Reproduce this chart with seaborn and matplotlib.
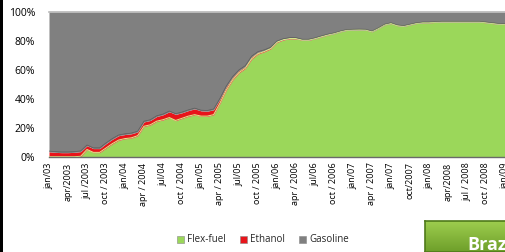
import matplotlib
matplotlib.use("Agg")
import matplotlib.pyplot as plt
import numpy as np
import pandas as pd
import seaborn as sns
from matplotlib.patches import Patch

# monthly shares, jan/2003 .. jan/2009 (percent of new light vehicle sales)
flex_fuel = [
    0, 0, 0, 0, 0, 0.3, 5, 3, 3, 6, 9, 11.5,
    12.5, 13, 14.5, 21, 22, 24.5, 25.5, 27, 25, 26.5, 28, 29,
    28, 28, 29, 37, 46, 53, 58, 61, 67.5, 71, 72.5, 74.5,
    79, 80.7, 81.5, 81.5, 80.5, 80.5, 81.5, 82.8, 84, 85, 86.3, 87.3,
    87.5, 87.6, 87.5, 86.3, 88.5, 91, 92, 90.5, 90, 91, 92, 92.5,
    92.5, 92.8, 93, 93, 93, 93, 93, 93, 93, 92.5, 92, 91.5,
    91.3,
]
ethanol = [
    3.6, 3.2, 3.0, 3.0, 3.2, 3.4, 2.8, 2.8, 2.8, 3.2, 3.2, 3.2,
    3.0, 3.0, 2.8, 3.2, 3.2, 3.4, 3.6, 4.2, 4.4, 4.0, 4.0, 4.2,
    3.8, 3.6, 3.6, 3.0, 2.5, 2.0, 1.6, 1.5, 1.6, 1.2, 0.9, 0.7,
    0.5, 0.4, 0.3, 0.3, 0.2, 0.2, 0.2, 0.2, 0.2, 0.1, 0.1, 0.1,
    0.1, 0.1, 0.1, 0.1, 0.1, 0.1, 0.1, 0.1, 0.1, 0.1, 0.1, 0.1,
    0.1, 0.1, 0.1, 0.1, 0.1, 0.1, 0.1, 0.1, 0.1, 0.1, 0.1, 0.1,
    0.1,
]
tick_labels = [
    "jan/03", "apr/2003", "jul /2003", "oct / 2003",
    "jan/04", "apr / 2004", "jul/04", "oct / 2004",
    "jan/05", "apr / 2005", "jul/05", "oct / 2005",
    "jan/06", "apr / 2006", "jul/06", "oct / 2006",
    "jan/07", "apr / 2007", "jan/07", "oct/2007",
    "jan/08", "apr/2008", "jul / 2008", "oct / 2008",
    "jan/09",
]
series_names = ["Flex-fuel", "Ethanol", "Gasoline"]
colors = ["#9BD75A", "#E8141B", "#808080"]

df = pd.DataFrame({"Flex-fuel": flex_fuel, "Ethanol": ethanol})
df["Gasoline"] = 100 - df["Flex-fuel"] - df["Ethanol"]
df["month"] = np.arange(len(df))

sns.set_theme(style="white")
plt.rcParams["font.family"] = ["Open Sans", "DejaVu Sans"]

W, H = 505, 252
fig = plt.figure(figsize=(W / 100, H / 100), dpi=100)
ax = fig.add_axes([49 / W, (H - 157) / H, 456 / W, 145 / H])

x = df["month"]
ax.stackplot(x, df["Flex-fuel"], df["Ethanol"], df["Gasoline"],
             colors=colors, linewidth=0)
# bevel-like edges: pale highlight on the green top, dark edge under the gray
sns.lineplot(x=x, y=df["Flex-fuel"] + 0.2, color="#d9f08c", linewidth=0.7, ax=ax)
sns.lineplot(x=x, y=df["Flex-fuel"] + df["Ethanol"] + 0.5, color="#5a5a5a",
             linewidth=0.5, ax=ax)
ax.set_xlim(0, len(df) - 1)
ax.set_ylim(0, 100)
ax.set_xlabel("")
ax.set_ylabel("")

ax.set_yticks(range(0, 101, 20))
ax.set_yticklabels([f"{v}%" for v in range(0, 101, 20)], fontsize=7.5, color="#000000")
ax.set_xticks(np.arange(0, len(df), 3))
ax.set_xticklabels(tick_labels, rotation=90, fontsize=6.5, color="#000000")
ax.tick_params(axis="y", length=0, pad=10)
ax.tick_params(axis="x", length=0, pad=4)

for side in ["left", "right"]:
    ax.spines[side].set_visible(False)
ax.spines["top"].set_color("#b8b8b8")
ax.spines["top"].set_linewidth(1.2)
ax.spines["bottom"].set_color("#6a6a6a")
ax.spines["bottom"].set_linewidth(1.0)

handles = [Patch(facecolor=c, edgecolor="#888888", linewidth=0.4) for c in colors]
fig.legend(handles, series_names, loc="center", ncol=3,
           bbox_to_anchor=(263 / W, 1 - 240 / H), frameon=False,
           fontsize=7, handlelength=0.75, handleheight=0.75,
           handletextpad=0.35, columnspacing=1.4)

# green "Brazil" button at the lower right, cut by the edge
bx = fig.add_axes([425 / W, 0, 90 / W, 31 / H])
grad = np.linspace(0, 1, 50).reshape(-1, 1)
cmap = matplotlib.colors.LinearSegmentedColormap.from_list("g", ["#9dcd4e", "#6e9f2a"])
bx.imshow(grad, aspect="auto", cmap=cmap, extent=[0, 1, 0, 1])
bx.set_xticks([])
bx.set_yticks([])
for s in bx.spines.values():
    s.set_color("#4f7a1a")
    s.set_linewidth(1.2)
fig.text(467 / W, 1 - 236 / H, "Brazil", color="white", fontsize=13,
         fontweight="bold", va="top", ha="left")

# dark border strip on the left edge
fig.patches.append(matplotlib.patches.Rectangle((0, 0), 2.5 / W, 1, transform=fig.transFigure,
                                                facecolor="black", edgecolor="none"))

fig.savefig("out.png", dpi=100)
